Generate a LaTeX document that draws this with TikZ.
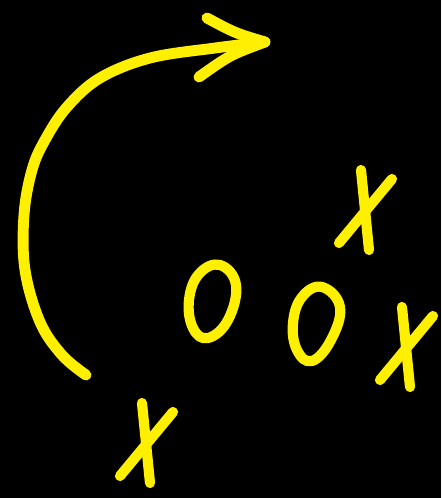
\documentclass[tikz,border=0pt]{standalone}
\definecolor{marker}{RGB}{255,240,0}
\begin{document}
\begin{tikzpicture}[x=0.02cm, y=-0.02cm,
	pen/.style={draw=marker, line width=5.8pt, line cap=round, line join=round}]
	
	% Background
	\fill[black] (0,0) rectangle (441,498);
	
	% Curved arrow
	\draw[pen, line width=6.2pt] plot[smooth, tension=0.6] coordinates
		{(86,375) (62,355) (40,322) (25,270) (24,215) (32,170) (45,140) (67,107) (100,78) (150,58) (215,48) (265,42)};
	\draw[pen, line width=6.2pt] (207,18) .. controls (235,33) .. (265,42);
	\draw[pen, line width=6.2pt] (199,77) .. controls (230,55) .. (265,42);
	
	% Crosses
	\foreach \x/\y in {142/403, 361/170, 402/307} {
		\draw[pen] (\x,\y) -- ++(8,80);
		\draw[pen] (\x+31,\y+9) -- ++(-53,64);
	}
	
	% Noughts
	\draw[pen] plot[smooth cycle, tension=0.7] coordinates
		{(220,265) (236,285) (228,320) (208,338) (193,328) (189,300) (199,274)};
	\draw[pen] plot[smooth cycle, tension=0.7] coordinates
		{(322,287) (340,307) (331,340) (312,361) (297,350) (293,323) (302,297)};
\end{tikzpicture}
\end{document}
